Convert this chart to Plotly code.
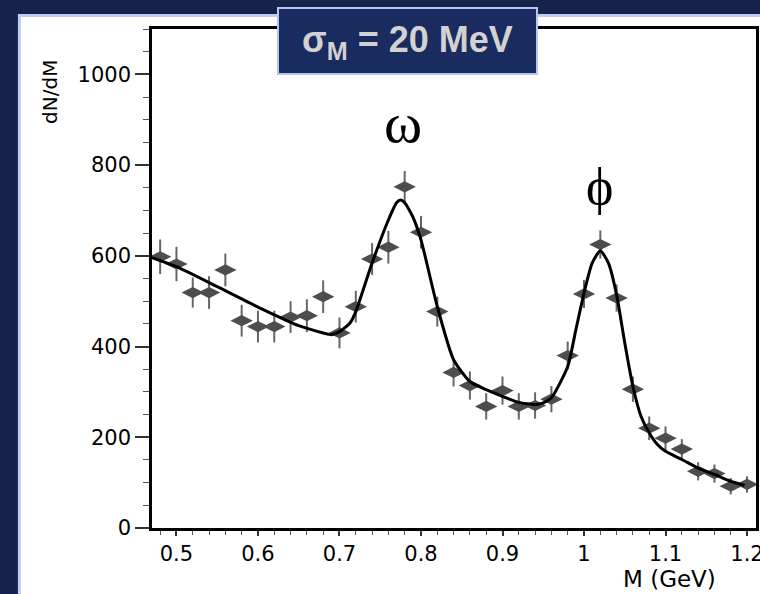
import plotly.graph_objects as go

# Data points (M in GeV, dN/dM, error)
pts_m = [0.48, 0.50, 0.52, 0.54, 0.56, 0.58, 0.60, 0.62, 0.64, 0.66, 0.68, 0.70,
         0.72, 0.74, 0.76, 0.78, 0.80, 0.82, 0.84, 0.86, 0.88, 0.90, 0.92, 0.94,
         0.96, 0.98, 1.00, 1.02, 1.04, 1.06, 1.08, 1.10, 1.12, 1.14, 1.16, 1.18, 1.20]
pts_v = [598, 582, 519, 519, 569, 457, 444, 444, 465, 468, 510, 430,
         488, 593, 619, 752, 652, 477, 343, 314, 268, 303, 268, 270,
         284, 380, 516, 625, 507, 306, 220, 198, 174, 125, 120, 92, 96]
pts_err = [38, 38, 33, 36, 36, 35, 35, 35, 35, 36, 36, 34,
           35, 35, 36, 35, 36, 33, 31, 31, 29, 31, 29, 29,
           29, 31, 31, 31, 30, 28, 26, 26, 22, 20, 20, 18, 18]

# Fit curve
curve_m = [0.47, 0.50, 0.55, 0.60, 0.65, 0.68, 0.69, 0.70, 0.713, 0.72, 0.74, 0.76,
           0.77, 0.775, 0.78, 0.79, 0.80, 0.82, 0.84, 0.86, 0.88, 0.90, 0.92, 0.94,
           0.95, 0.96, 0.98, 0.99, 1.00, 1.01, 1.02, 1.03, 1.04, 1.05, 1.06, 1.07,
           1.08, 1.09, 1.10, 1.12, 1.14, 1.16, 1.18, 1.197]
curve_v = [596, 576, 532, 487, 446, 430, 426, 433, 452, 477, 584, 679,
           717, 723, 717, 686, 635, 488, 371, 323, 305, 290, 277, 272,
           276, 287, 356, 437, 518, 584, 611, 584, 514, 408, 312, 246,
           210, 184, 169, 151, 132, 118, 103, 94]

x_ticks = [0.5, 0.6, 0.7, 0.8, 0.9, 1.0, 1.1, 1.2]
x_tick_text = ["0.5", "0.6", "0.7", "0.8", "0.9", "1", "1.1", "1.2"]
y_ticks = [0, 200, 400, 600, 800, 1000]

NAVY = "#16234a"

fig = go.Figure()
fig.add_trace(go.Scatter(
    x=pts_m, y=pts_v, mode="markers",
    marker=dict(symbol="diamond-wide", size=16, color="#4d4d4d"),
    error_y=dict(type="data", array=pts_err, visible=True, width=0,
                 thickness=2, color="#666666"),
    showlegend=False))
fig.add_trace(go.Scatter(
    x=curve_m, y=curve_v, mode="lines",
    line=dict(color="black", width=3, shape="spline", smoothing=0.6),
    showlegend=False))

fig.update_layout(
    width=760, height=594,
    margin=dict(l=152, r=4, t=29, b=66),
    paper_bgcolor=NAVY, plot_bgcolor="white",
    font=dict(family="DejaVu Sans", color="black"),
    xaxis=dict(range=[0.47, 1.211], tickvals=x_ticks, ticktext=x_tick_text,
               automargin=False,
               ticks="outside", ticklen=5, tickwidth=1.5, tickcolor="#333",
               tickfont=dict(size=21, family="DejaVu Sans", color="black"),
               ticklabeloverflow="allow",
               showline=True, linecolor="black", linewidth=2.5, mirror=True,
               showgrid=False, zeroline=False,
               minor=dict(dtick=0.02, ticks="outside", ticklen=4, tickcolor="#555", tickwidth=1)),
    yaxis=dict(range=[0, 1100], tickvals=y_ticks,
               automargin=False,
               ticks="outside", ticklen=14, tickwidth=1.5, tickcolor="#333",
               tickfont=dict(size=21, family="DejaVu Sans", color="black"),
               showline=True, linecolor="black", linewidth=2.5, mirror=True,
               showgrid=False, zeroline=False,
               minor=dict(dtick=50, ticks="outside", ticklen=6, tickcolor="#555", tickwidth=1)),
)

# White panel with lavender border
fig.add_shape(type="rect", xref="paper", yref="paper",
              x0=-0.2195, x1=1.2, y0=-0.3, y1=1.027,
              fillcolor="white", line=dict(color="#c2caf4", width=3), layer="below")

# Title box
fig.add_shape(type="rect", xref="paper", yref="paper",
              x0=(278 - 152) / 604, x1=(537 - 152) / 604,
              y0=(528.5 - 74) / 499.5, y1=(528.5 - 8) / 499.5,
              fillcolor="#1a2b5f", line=dict(color="#b8c4f2", width=2), layer="above")
fig.add_annotation(xref="paper", yref="paper",
                   x=(407.5 - 152) / 604, y=(528.5 - 42) / 499.5,
                   text="<b>σ<sub>M</sub> = 20 MeV</b>", showarrow=False,
                   font=dict(family="Liberation Sans", size=36, color="#d2d2d2"),
                   xanchor="center", yanchor="middle")

# Greek labels
fig.add_annotation(x=0.778, y=893, text="ω", showarrow=False,
                   font=dict(family="Liberation Serif, DejaVu Serif", size=58, color="black"),
                   xanchor="center", yanchor="middle")
fig.add_annotation(x=1.0185, y=752, text="ϕ", showarrow=False,
                   font=dict(family="Liberation Serif, DejaVu Serif", size=52, color="black"),
                   xanchor="center", yanchor="middle")

# Axis titles
fig.add_annotation(xref="paper", yref="paper",
                   x=(50 - 152) / 604, y=(528.5 - 92) / 499.5,
                   text="dN/dM", textangle=-90, showarrow=False,
                   font=dict(family="DejaVu Sans", size=20, color="black"),
                   xanchor="center", yanchor="middle")
fig.add_annotation(xref="paper", yref="paper",
                   x=(669 - 152) / 604, y=(528.5 - 580) / 499.5,
                   text="M (GeV)", showarrow=False,
                   font=dict(family="DejaVu Sans", size=23, color="black"),
                   xanchor="center", yanchor="middle")

fig.write_html("out.html",
               config={"displayModeBar": False},
               post_script="document.body.style.margin='0';document.body.style.overflow='hidden';")
